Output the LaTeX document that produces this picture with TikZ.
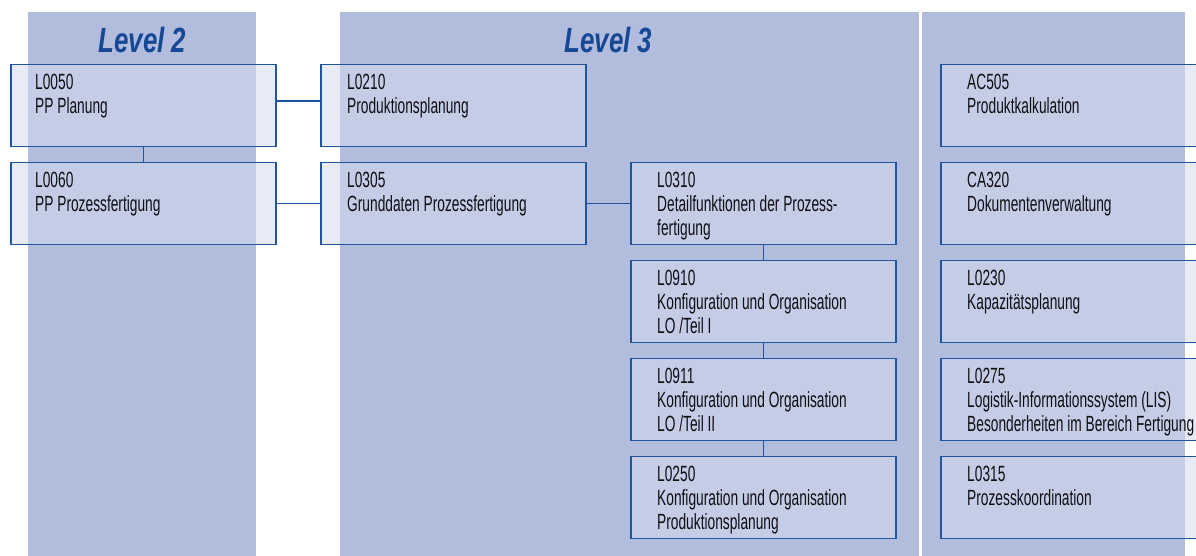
\documentclass[tikz,border=0pt]{standalone}
\usepackage{fontspec}
\newfontfamily\boxfont[FakeStretch=0.625]{Liberation Sans}
\newfontfamily\titlefont[FakeStretch=0.74]{Liberation Sans}
\definecolor{colbg}{RGB}{178,188,220}
\definecolor{boxfill}{RGB}{213,218,237}
\definecolor{edge}{RGB}{30,85,158}
\definecolor{titlec}{RGB}{22,72,150}
\definecolor{textc}{RGB}{15,15,20}
\begin{document}
\begin{tikzpicture}[x=1pt,y=-1pt,
  box/.style={draw=edge, line width=1.6pt, fill=boxfill, fill opacity=0.55, draw opacity=1, text opacity=1,
    minimum width=265pt, minimum height=82pt, inner sep=0pt, anchor=north west},
  wbox/.style={box, minimum width=280pt},
  txt/.style={anchor=north west, inner sep=0pt, align=left, text=textc,
    font=\boxfont\fontsize{22}{24}\selectfont},
  link/.style={draw=edge, line width=1.6pt},
  titletxt/.style={anchor=base, inner sep=0pt, text=titlec,
    font=\titlefont\bfseries\itshape\fontsize{35}{40}\selectfont}]
\useasboundingbox (0,0) rectangle (1196,555);
\clip (0,0) rectangle (1196,555);
% columns
\fill[colbg] (28,12) rectangle (256,560);
\fill[colbg] (340,12) rectangle (1185,560);
\fill[white] (919,12) rectangle (921.5,560);
% titles
\node[titletxt] (t2) at (142.5,52) {Level 2};
\node[titletxt] (t3) at (608.5,52) {Level 3};
% boxes
\node[box] (b050) at (10,63.5) {};
\node[box] (b060) at (10,161.5) {};
\node[box] (b210) at (320,63.5) {};
\node[box] (b305) at (320,161.5) {};
\node[box] (b310) at (630,161.5) {};
\node[box] (b910) at (630,259.5) {};
\node[box] (b911) at (630,357.5) {};
\node[box] (b250) at (630,455.5) {};
\node[wbox] (bac) at (940,63.5) {};
\node[wbox] (bca) at (940,161.5) {};
\node[wbox] (b230) at (940,259.5) {};
\node[wbox] (b275) at (940,357.5) {};
\node[wbox] (b315) at (940,455.5) {};
% texts
\node[txt] (x050) at ([xshift=25pt,yshift=-10.5pt]b050.north west) {L0050\\PP Planung};
\node[txt] (x060) at ([xshift=25pt,yshift=-10.5pt]b060.north west) {L0060\\PP Prozessfertigung};
\node[txt] (x210) at ([xshift=27pt,yshift=-10.5pt]b210.north west) {L0210\\Produktionsplanung};
\node[txt] (x305) at ([xshift=27pt,yshift=-10.5pt]b305.north west) {L0305\\Grunddaten Prozessfertigung};
\node[txt] (x310) at ([xshift=27pt,yshift=-10.5pt]b310.north west) {L0310\\Detailfunktionen der Prozess-\\fertigung};
\node[txt] (x910) at ([xshift=27pt,yshift=-10.5pt]b910.north west) {L0910\\Konfiguration und Organisation\\LO /Teil I};
\node[txt] (x911) at ([xshift=27pt,yshift=-10.5pt]b911.north west) {L0911\\Konfiguration und Organisation\\LO /Teil II};
\node[txt] (x250) at ([xshift=27pt,yshift=-10.5pt]b250.north west) {L0250\\Konfiguration und Organisation\\Produktionsplanung};
\node[txt] (xac) at ([xshift=27pt,yshift=-10.5pt]bac.north west) {AC505\\Produktkalkulation};
\node[txt] (xca) at ([xshift=27pt,yshift=-10.5pt]bca.north west) {CA320\\Dokumentenverwaltung};
\node[txt] (x230) at ([xshift=27pt,yshift=-10.5pt]b230.north west) {L0230\\Kapazitätsplanung};
\node[txt] (x275) at ([xshift=27pt,yshift=-10.5pt]b275.north west) {L0275\\Logistik-Informationssystem (LIS)\\Besonderheiten im Bereich Fertigung};
\node[txt] (x315) at ([xshift=27pt,yshift=-10.5pt]b315.north west) {L0315\\Prozesskoordination};
% connectors
\draw[link] ([yshift=4.5pt]b050.east) -- ([yshift=4.5pt]b210.west);
\draw[link] (b060.east) -- (b305.west);
\draw[link] (b305.east) -- (b310.west);
\draw[link] (b050.south) -- (b060.north);
\draw[link] (b310.south) -- (b910.north);
\draw[link] (b910.south) -- (b911.north);
\draw[link] (b911.south) -- (b250.north);
\end{tikzpicture}
\end{document}
